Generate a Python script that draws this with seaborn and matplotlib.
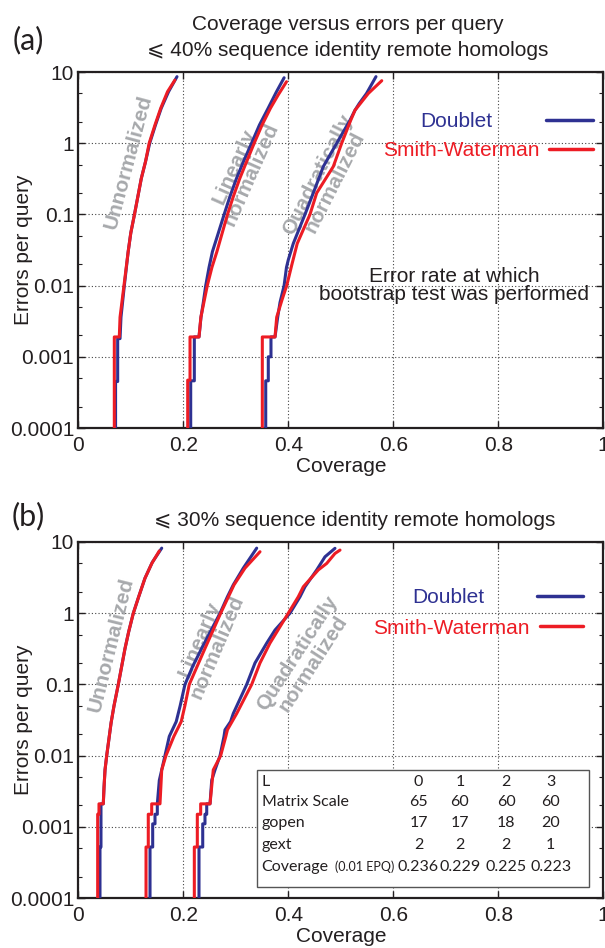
import matplotlib
matplotlib.use("Agg")
import matplotlib.pyplot as plt
from matplotlib.lines import Line2D
from matplotlib.patches import Rectangle
from matplotlib.ticker import FixedLocator, LogLocator, NullFormatter, NullLocator
import pandas as pd
import seaborn as sns

sns.set_style("ticks")
plt.rcParams["font.family"] = ["Liberation Sans", "DejaVu Sans"]

BLUE = "#2e3192"
RED = "#ed1c24"
GRAY = "#a7a9ac"
INK = "#231f20"

methods = ["Doublet", "Smith-Waterman"]
schemes = ["Unnormalized", "Linearly\nnormalized", "Quadratically\nnormalized"]

# ---- (a) <= 40% sequence identity: coverage vs errors per query ----
a_un_d_cov = [0.071, 0.071, 0.075, 0.075, 0.0795, 0.0813, 0.0877, 0.095, 0.100, 0.107,
              0.120, 0.128, 0.136, 0.147, 0.158, 0.172, 0.188]
a_un_d_epq = [0.0001, 0.00045, 0.00045, 0.0018, 0.0018, 0.0036, 0.01, 0.03, 0.055, 0.1,
              0.32, 0.55, 1.0, 1.8, 3.1, 5.3, 8.6]
a_un_s_cov = [0.0686, 0.0686, 0.0781, 0.0795, 0.087, 0.095, 0.100, 0.107, 0.120, 0.128,
              0.135, 0.146, 0.157, 0.170, 0.184]
a_un_s_epq = [0.0001, 0.0019, 0.0019, 0.0036, 0.01, 0.03, 0.055, 0.1, 0.32, 0.55,
              1.0, 1.8, 3.1, 5.3, 7.7]

a_lin_d_cov = [0.2141, 0.2141, 0.221, 0.221, 0.2299, 0.2337, 0.2381, 0.2427, 0.249, 0.2555,
               0.265, 0.2778, 0.289, 0.3013, 0.315, 0.330, 0.345, 0.3616, 0.377, 0.392]
a_lin_d_epq = [0.0001, 0.00046, 0.00046, 0.0019, 0.0019, 0.0036, 0.0058, 0.01, 0.018, 0.03,
               0.05, 0.1, 0.18, 0.32, 0.56, 1.0, 1.8, 3.1, 5.2, 8.3]
a_lin_s_cov = [0.2084, 0.2084, 0.2128, 0.2128, 0.2299, 0.2335, 0.2457, 0.2545, 0.264, 0.2842,
               0.2955, 0.3076, 0.321, 0.335, 0.350, 0.366, 0.381, 0.3966]
a_lin_s_epq = [0.0001, 0.00047, 0.00047, 0.0019, 0.0019, 0.0036, 0.01, 0.018, 0.03, 0.1,
               0.18, 0.32, 0.56, 1.0, 1.8, 3.1, 4.8, 7.3]

a_quad_d_cov = [0.357, 0.357, 0.3619, 0.3619, 0.367, 0.367, 0.3747, 0.3798, 0.3842, 0.392,
                0.3965, 0.400, 0.4095, 0.4318, 0.4476, 0.4667, 0.4922, 0.5175, 0.527, 0.535,
                0.549, 0.567]
a_quad_d_epq = [0.0001, 0.00046, 0.00046, 0.001, 0.001, 0.0019, 0.0019, 0.0036, 0.0058, 0.01,
                0.018, 0.023, 0.039, 0.1, 0.2, 0.47, 1.0, 2.1, 2.9, 3.6,
                5.0, 8.6]
a_quad_s_cov = [0.3505, 0.3505, 0.3747, 0.3779, 0.388, 0.397, 0.407, 0.417, 0.4413, 0.4541,
                0.4857, 0.5017, 0.5189, 0.527, 0.5524, 0.578]
a_quad_s_epq = [0.0001, 0.0019, 0.0019, 0.0036, 0.0063, 0.01, 0.02, 0.039, 0.1, 0.2,
                0.47, 1.0, 2.1, 2.9, 5.0, 7.55]

# ---- (b) <= 30% sequence identity ----
b_un_d_cov = [0.0413, 0.0413, 0.0432, 0.0432, 0.0476, 0.049, 0.0509, 0.0541, 0.059, 0.0625,
              0.068, 0.0762, 0.089, 0.096, 0.1048, 0.115, 0.127, 0.141, 0.1589]
b_un_d_epq = [0.0001, 0.00052, 0.00052, 0.0021, 0.0021, 0.0036, 0.0063, 0.01, 0.0186, 0.029,
              0.05, 0.1, 0.32, 0.55, 1.0, 1.7, 3.1, 5.2, 8.2]
b_un_s_cov = [0.0369, 0.0369, 0.0394, 0.0394, 0.0476, 0.049, 0.0509, 0.0541, 0.059, 0.0625,
              0.068, 0.0762, 0.089, 0.096, 0.1048, 0.115, 0.127, 0.140, 0.1543]
b_un_s_epq = [0.0001, 0.0015, 0.0015, 0.0021, 0.0021, 0.0036, 0.0063, 0.01, 0.0186, 0.029,
              0.05, 0.1, 0.32, 0.55, 1.0, 1.7, 3.1, 5.0, 7.5]

b_lin_d_cov = [0.1366, 0.1366, 0.1417, 0.1417, 0.1461, 0.1461, 0.1505, 0.1505, 0.1543, 0.1589,
               0.1651, 0.1733, 0.1865, 0.194, 0.2032, 0.218, 0.235, 0.252, 0.270, 0.284,
               0.2952, 0.3143, 0.3398]
b_lin_d_epq = [0.0001, 0.00052, 0.00052, 0.0011, 0.0011, 0.0015, 0.0015, 0.0021, 0.0045, 0.0063,
               0.01, 0.0186, 0.03, 0.05, 0.1, 0.18, 0.32, 0.56, 1.0, 1.7,
               2.5, 4.3, 8.2]
b_lin_s_cov = [0.129, 0.129, 0.1333, 0.1333, 0.1398, 0.1398, 0.1556, 0.1589, 0.167, 0.182,
               0.196, 0.203, 0.2114, 0.2413, 0.2712, 0.2966, 0.3175, 0.3461]
b_lin_s_epq = [0.0001, 0.00052, 0.00052, 0.0015, 0.0015, 0.0021, 0.0021, 0.0063, 0.01, 0.0186,
               0.03, 0.05, 0.1, 0.32, 1.0, 2.5, 4.3, 7.3]

b_quad_d_cov = [0.2299, 0.2299, 0.237, 0.237, 0.2413, 0.2413, 0.2446, 0.2446, 0.2509, 0.2541,
                0.2604, 0.270, 0.2775, 0.2794, 0.290, 0.2952, 0.3208, 0.3366, 0.3589, 0.3747,
                0.4032, 0.4223, 0.4318, 0.4541, 0.4699, 0.4889]
b_quad_d_epq = [0.0001, 0.00052, 0.00052, 0.0011, 0.0011, 0.0015, 0.0015, 0.0021, 0.0021, 0.0045,
                0.0063, 0.01, 0.0186, 0.023, 0.03, 0.039, 0.1, 0.2, 0.38, 0.58,
                1.0, 1.7, 2.35, 4.05, 6.2, 8.15]
b_quad_s_cov = [0.221, 0.221, 0.2267, 0.2267, 0.2331, 0.2331, 0.2509, 0.2571, 0.2712, 0.281,
                0.284, 0.3017, 0.3303, 0.3461, 0.3651, 0.400, 0.419, 0.4286, 0.4571, 0.4731,
                0.4889, 0.4985]
b_quad_s_epq = [0.0001, 0.00052, 0.00052, 0.0015, 0.0015, 0.0021, 0.0021, 0.0063, 0.01, 0.0186,
                0.023, 0.039, 0.1, 0.2, 0.38, 1.0, 1.7, 2.35, 4.05, 5.0,
                6.9, 7.7]

# parameter table shown in panel (b)
table_labels = ["L", "Matrix Scale", "gopen", "gext", "Coverage"]
L_values = ["0", "1", "2", "3"]
matrix_scale = [65, 60, 60, 60]
gap_open = [17, 17, 18, 20]
gap_ext = [2, 2, 2, 1]
coverage_at_001 = [0.236, 0.229, 0.225, 0.223]

y_ticks = [1e-4, 1e-3, 1e-2, 0.1, 1, 10]
y_ticklabels = ["0.0001", "0.001", "0.01", "0.1", "1", "10"]
x_ticks = [0, 0.2, 0.4, 0.6, 0.8, 1]
x_ticklabels = ["0", "0.2", "0.4", "0.6", "0.8", "1"]


def make_frame(curves):
    parts = []
    for scheme, method, cov, epq in curves:
        parts.append(pd.DataFrame({"coverage": cov, "epq": epq,
                                   "method": method, "scheme": scheme}))
    return pd.concat(parts, ignore_index=True)


df_a = make_frame([
    (schemes[0], "Doublet", a_un_d_cov, a_un_d_epq),
    (schemes[1], "Doublet", a_lin_d_cov, a_lin_d_epq),
    (schemes[2], "Doublet", a_quad_d_cov, a_quad_d_epq),
    (schemes[0], "Smith-Waterman", a_un_s_cov, a_un_s_epq),
    (schemes[1], "Smith-Waterman", a_lin_s_cov, a_lin_s_epq),
    (schemes[2], "Smith-Waterman", a_quad_s_cov, a_quad_s_epq),
])
df_b = make_frame([
    (schemes[0], "Doublet", b_un_d_cov, b_un_d_epq),
    (schemes[1], "Doublet", b_lin_d_cov, b_lin_d_epq),
    (schemes[2], "Doublet", b_quad_d_cov, b_quad_d_epq),
    (schemes[0], "Smith-Waterman", b_un_s_cov, b_un_s_epq),
    (schemes[1], "Smith-Waterman", b_lin_s_cov, b_lin_s_epq),
    (schemes[2], "Smith-Waterman", b_quad_s_cov, b_quad_s_epq),
])


def draw_panel(ax, df, label_pos, legend_pos):
    sns.lineplot(data=df, x="coverage", y="epq", hue="method", units="scheme",
                 estimator=None, sort=False, hue_order=methods,
                 palette={"Doublet": BLUE, "Smith-Waterman": RED},
                 linewidth=2.2, legend=False, ax=ax, zorder=3)
    ax.set_yscale("log")
    ax.set_xlim(0, 1)
    ax.set_ylim(1e-4, 10)
    ax.xaxis.set_major_locator(FixedLocator(x_ticks))
    ax.set_xticklabels(x_ticklabels)
    ax.xaxis.set_minor_locator(NullLocator())
    ax.yaxis.set_major_locator(FixedLocator(y_ticks))
    ax.set_yticklabels(y_ticklabels)
    ax.yaxis.set_minor_locator(LogLocator(base=10, subs=(2, 5)))
    ax.yaxis.set_minor_formatter(NullFormatter())
    ax.tick_params(which="both", direction="in", top=True, right=True,
                   labelsize=15, labelcolor=INK, color=INK)
    ax.tick_params(which="major", length=5, width=1)
    ax.tick_params(which="minor", length=3, width=0.8)
    ax.tick_params(axis="x", pad=6)
    ax.tick_params(axis="y", pad=3)
    ax.grid(True, which="major", color="#444444", linestyle=(0, (1, 2)), linewidth=0.8)
    ax.set_axisbelow(True)
    for s in ax.spines.values():
        s.set_linewidth(1.6)
        s.set_color(INK)
    ax.set_xlabel("Coverage", fontsize=15, color=INK, labelpad=1)
    ax.set_ylabel("Errors per query", fontsize=15, color=INK)
    ax.yaxis.set_label_coords(-0.086, 0.5)

    for name, (x, y, rot) in zip(schemes, label_pos):
        ax.text(x, y, name, rotation=rot, rotation_mode="anchor", ha="center",
                va="center", fontsize=15, fontweight="bold", color=GRAY,
                linespacing=1.0, zorder=2)

    (dx, dy, dlen, dpad), (sx, sy, slen, spad) = legend_pos
    leg1 = ax.legend(handles=[Line2D([], [], color=BLUE, lw=2.5)], labels=["Doublet"],
                     loc="center right", bbox_to_anchor=(dx, dy), frameon=False,
                     markerfirst=False, handlelength=dlen, handletextpad=dpad,
                     borderpad=0, borderaxespad=0, fontsize=15, labelcolor=BLUE)
    ax.add_artist(leg1)
    ax.legend(handles=[Line2D([], [], color=RED, lw=2.5)], labels=["Smith-Waterman"],
              loc="center right", bbox_to_anchor=(sx, sy), frameon=False,
              markerfirst=False, handlelength=slen, handletextpad=spad,
              borderpad=0, borderaxespad=0, fontsize=15, labelcolor=RED)


fig = plt.figure(figsize=(6.05, 9.48), dpi=100)
ax_a = fig.add_axes([78.3 / 605, 1 - 428 / 948, 525 / 605, 356 / 948])
ax_b = fig.add_axes([78.3 / 605, 1 - 898 / 948, 525 / 605, 356 / 948])

draw_panel(ax_a, df_a,
           [(0.095, 0.54, 75), (0.313, 0.42, 66), (0.472, 0.32, 63)],
           [(0.980, 0.860, 2.26, 2.54), (0.980, 0.779, 2.11, 0.43)])
draw_panel(ax_b, df_b,
           [(0.062, 0.36, 76), (0.247, 0.38, 67), (0.432, 0.23, 57)],
           [(0.961, 0.843, 2.21, 2.50), (0.961, 0.758, 2.06, 0.48)])

ax_a.text(0.716, 0.01, "Error rate at which\nbootstrap test was performed",
          ha="center", va="center", fontsize=15, color=INK, linespacing=0.95)

# parameter table box in panel (b)
ax_b.add_patch(Rectangle((0.340, 0.030), 0.633, 0.3296, transform=ax_b.transAxes,
                         facecolor="white", edgecolor="#555555", lw=1, zorder=4))
row_y = [0.327, 0.2697, 0.2107, 0.149, 0.088]
col_x = [0.648, 0.727, 0.815, 0.900]
tfont = dict(family=["Lato", "DejaVu Sans"], fontsize=11.5, color=INK, zorder=5,
             transform=ax_b.transAxes, va="center")
for lab, y in zip(table_labels, row_y):
    ax_b.text(0.349, y, lab, ha="left", **tfont)
ax_b.text(0.489, row_y[4], "(0.01 EPQ)", ha="left",
          **{**tfont, "fontsize": 9})
for row, y in zip([L_values, matrix_scale, gap_open, gap_ext,
                   [f"{v:.3f}" for v in coverage_at_001]], row_y):
    for v, x in zip(row, col_x):
        ax_b.text(x, y, str(v), ha="center", **tfont)

# panel letters and titles
fig.text(28 / 605, 1 - 40 / 948, "(a)", fontsize=22, family=["Lato", "DejaVu Sans"],
         ha="center", va="center", color=INK)
fig.text(28 / 605, 1 - 516 / 948, "(b)", fontsize=22, family=["Lato", "DejaVu Sans"],
         ha="center", va="center", color=INK)
fig.text(348 / 605, 1 - 25 / 948, "Coverage versus errors per query",
         fontsize=15, ha="center", va="center", color=INK)
fig.text(348 / 605, 1 - 50 / 948, "\u2a7d 40% sequence identity remote homologs",
         fontsize=15, ha="center", va="center", color=INK)
fig.text(355 / 605, 1 - 521 / 948, "\u2a7d 30% sequence identity remote homologs",
         fontsize=15, ha="center", va="center", color=INK)

fig.savefig("out.png", dpi=100)
